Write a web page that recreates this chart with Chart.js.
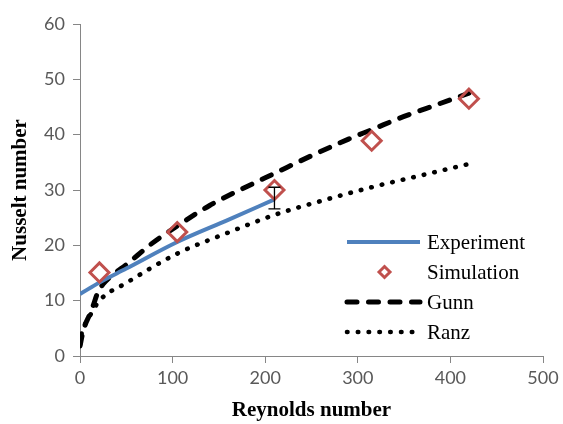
<!DOCTYPE html>
<html>
<head>
<meta charset="utf-8">
<script src="https://cdn.jsdelivr.net/npm/chart.js@4.4.1/dist/chart.umd.min.js"></script>
<style>
  body { margin: 0; background: #fff; }
  #wrap { width: 563px; height: 424px; }
</style>
</head>
<body>
<div id="wrap"><canvas id="nusselt_Chart" width="563" height="424"></canvas></div>
<script>
// Experiment (measured line)
const expRe = [0, 21, 50, 105, 160, 210];
const expNu = [11.2, 13.3, 15.8, 20.6, 24.6, 28.3];

// error bar at the last measured point
const errRe = [210];
const errLow = [26.6];
const errHigh = [30.5];

// Simulation points
const simRe = [21, 105, 210, 315, 420];
const simNu = [15.1, 22.4, 30.0, 38.9, 46.5];

// Gunn correlation
const gunnRe = [0, 3, 6, 10, 14, 19, 25, 37, 50, 75, 105, 140, 175, 210, 250, 290, 315, 350, 385, 420];
const gunnNu = [1.8, 4.2, 5.8, 7.3, 9.0, 11.4, 13.0, 14.9, 16.5, 20.0, 23.5, 27.2, 30.2, 33.0, 36.2, 39.2, 40.9, 43.3, 45.4, 47.5];

// Ranz correlation
const ranzRe = [0, 2, 5, 10, 21, 50, 105, 160, 210, 260, 315, 370, 420];
const ranzNu = [2.0, 4.3, 5.6, 7.1, 10.0, 13.2, 18.5, 22.3, 25.5, 28.0, 30.5, 32.7, 34.7];

const xTicks = [0, 100, 200, 300, 400, 500];
const yTicks = [0, 10, 20, 30, 40, 50, 60];

const toPoints = (xs, ys) => xs.map((x, i) => ({ x: x, y: ys[i] }));

const serif = "'Liberation Serif', 'Times New Roman', serif";
const sans = "Lato, 'Liberation Sans', sans-serif";
const axisGray = '#868686';

// 오차 막대
const errorBars = {
    id: 'errorBars',
    afterDatasetsDraw(chart) {
        const { ctx, scales: { x, y } } = chart;
        ctx.save();
        ctx.strokeStyle = '#000';
        ctx.lineWidth = 1.3;
        errRe.forEach((re, i) => {
            const px = x.getPixelForValue(re);
            const top = y.getPixelForValue(errHigh[i]);
            const bot = y.getPixelForValue(errLow[i]);
            ctx.beginPath();
            ctx.moveTo(px, top); ctx.lineTo(px, bot);
            ctx.moveTo(px - 6, top); ctx.lineTo(px + 6, top);
            ctx.moveTo(px - 6, bot); ctx.lineTo(px + 6, bot);
            ctx.stroke();
        });
        ctx.restore();
    }
};

// 범례 (차트 안쪽 오른쪽 아래)
const innerLegend = {
    id: 'innerLegend',
    afterDraw(chart) {
        const ctx = chart.ctx;
        const x1 = 347, x2 = 420, tx = 427;
        const rows = [242, 272, 302, 332];
        const order = [1, 0, 2, 3];
        ctx.save();
        order.forEach((dsIndex, r) => {
            const ds = chart.data.datasets[dsIndex];
            const yy = rows[r];
            if (ds.showLine) {
                ctx.beginPath();
                ctx.setLineDash(ds.borderDash || []);
                ctx.lineCap = ds.borderCapStyle || 'butt';
                ctx.lineWidth = ds.borderWidth;
                ctx.strokeStyle = ds.borderColor;
                ctx.moveTo(x1, yy); ctx.lineTo(x2, yy);
                ctx.stroke();
            } else {
                const cx = (x1 + x2) / 2 + 1, s = 5.5;
                ctx.setLineDash([]);
                ctx.lineWidth = 3;
                ctx.strokeStyle = ds.borderColor;
                ctx.beginPath();
                ctx.moveTo(cx - s, yy); ctx.lineTo(cx, yy - s);
                ctx.lineTo(cx + s, yy); ctx.lineTo(cx, yy + s);
                ctx.closePath();
                ctx.stroke();
            }
            ctx.setLineDash([]);
            ctx.fillStyle = '#000';
            ctx.font = "21px " + serif;
            ctx.textBaseline = 'middle';
            ctx.textAlign = 'left';
            ctx.fillText(ds.label, tx, yy + 1);
        });
        ctx.restore();
    }
};

const ctxNu = document.getElementById('nusselt_Chart').getContext('2d');
new Chart(ctxNu, {
    type: 'scatter',
    data: {
        datasets: [
            {
                label: 'Simulation',
                data: toPoints(simRe, simNu),
                showLine: false,
                pointStyle: 'rectRot',
                pointRadius: 9.5,
                pointBorderWidth: 3,
                borderColor: '#C0504D',
                pointBorderColor: '#C0504D',
                backgroundColor: 'rgba(0,0,0,0)',
                order: 0
            },
            {
                label: 'Experiment',
                data: toPoints(expRe, expNu),
                showLine: true,
                borderColor: '#4F81BD',
                borderWidth: 4,
                pointRadius: 0,
                cubicInterpolationMode: 'monotone',
                order: 1
            },
            {
                label: 'Gunn',
                data: toPoints(gunnRe, gunnNu),
                showLine: true,
                borderColor: '#000',
                borderWidth: 5,
                borderDash: [10, 11.5],
                borderCapStyle: 'round',
                pointRadius: 0,
                cubicInterpolationMode: 'monotone',
                order: 2
            },
            {
                label: 'Ranz',
                data: toPoints(ranzRe, ranzNu),
                showLine: true,
                borderColor: '#000',
                borderWidth: 4.6,
                borderDash: [0.5, 10.3],
                borderCapStyle: 'round',
                pointRadius: 0,
                cubicInterpolationMode: 'monotone',
                order: 3
            }
        ]
    },
    options: {
        responsive: false,
        animation: false,
        layout: {
            padding: { top: 24, right: 20, left: 0, bottom: 0 }
        },
        plugins: {
            legend: { display: false },
            tooltip: { enabled: false }
        },
        scales: {
            x: {
                type: 'linear',
                min: 0,
                max: 500,
                afterBuildTicks: (scale) => { scale.ticks = xTicks.map(v => ({ value: v })); },
                afterFit: (scale) => { scale.height = 68; },
                ticks: {
                    color: '#595959',
                    font: { family: sans, size: 18 },
                    padding: 4
                },
                grid: {
                    drawOnChartArea: false,
                    drawTicks: true,
                    tickLength: 7,
                    color: axisGray
                },
                border: { color: axisGray, width: 1 },
                title: {
                    display: true,
                    text: 'Reynolds number',
                    color: '#000',
                    font: { family: serif, size: 21, weight: 'bold' },
                    padding: { top: 0, bottom: 1 }
                }
            },
            y: {
                min: 0,
                max: 60,
                afterBuildTicks: (scale) => { scale.ticks = yTicks.map(v => ({ value: v })); },
                afterFit: (scale) => { scale.width = 80; },
                ticks: {
                    color: '#595959',
                    font: { family: sans, size: 18 },
                    padding: 8
                },
                grid: {
                    drawOnChartArea: false,
                    drawTicks: true,
                    tickLength: 7,
                    color: axisGray
                },
                border: { color: axisGray, width: 1 },
                title: {
                    display: true,
                    text: 'Nusselt number',
                    color: '#000',
                    font: { family: serif, size: 21, weight: 'bold' },
                    padding: { top: 8, bottom: 0 }
                }
            }
        }
    },
    plugins: [errorBars, innerLegend]
});
</script>
</body>
</html>
